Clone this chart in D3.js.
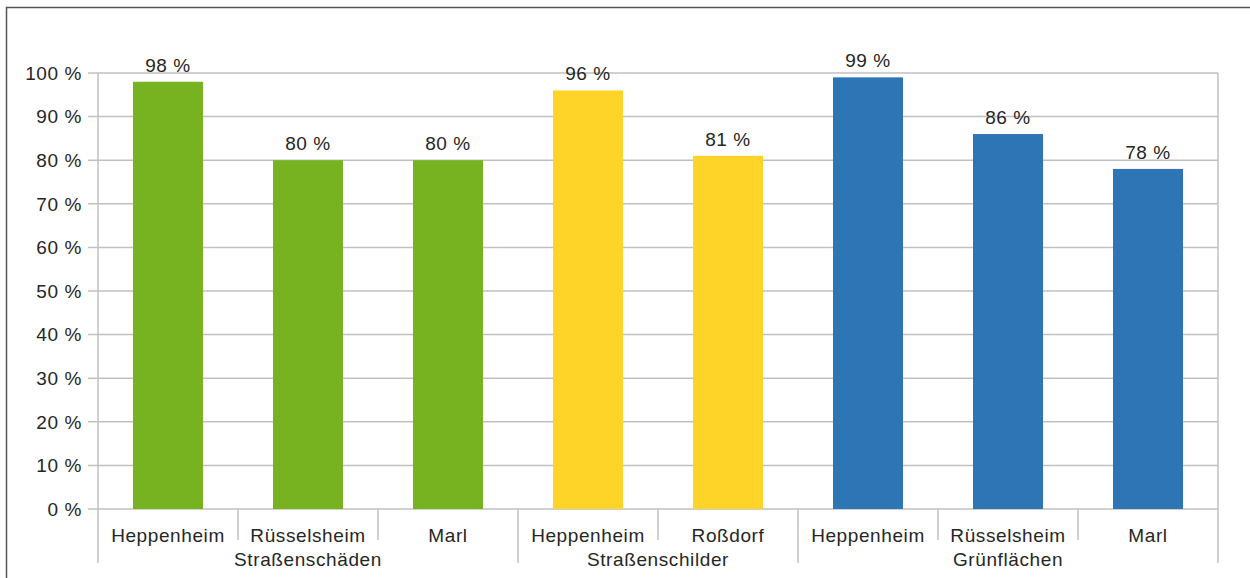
<!DOCTYPE html>
<html>
<head>
<meta charset="utf-8">
<script src="https://cdn.jsdelivr.net/npm/d3@7"></script>
<style>
  body { margin: 0; background: #fff; }
  svg text { font-family: "Liberation Sans", Arial, sans-serif; fill: #262626; font-size: 19px; letter-spacing: 0.6px; }
</style>
</head>
<body>
<div id="chart"></div>
<script>
// chart data
const cities = ["Heppenheim", "Rüsselsheim", "Marl", "Heppenheim", "Roßdorf", "Heppenheim", "Rüsselsheim", "Marl"];
const groups = ["Straßenschäden", "Straßenschäden", "Straßenschäden", "Straßenschilder", "Straßenschilder", "Grünflächen", "Grünflächen", "Grünflächen"];
const values = [98, 80, 80, 96, 81, 99, 86, 78];
const groupColors = { "Straßenschäden": "#77b321", "Straßenschilder": "#ffd428", "Grünflächen": "#2e75b6" };
const yTicks = [0, 10, 20, 30, 40, 50, 60, 70, 80, 90, 100];

const W = 1250, H = 578;
const plotLeft = 98, plotRight = 1218, plotTop = 73, plotBottom = 509;

const svg = d3.select("#chart").append("svg")
    .attr("width", W)
    .attr("height", H);

// outer frame
svg.append("path")
    .attr("d", "M6.5," + H + "V7.5H" + W)
    .attr("fill", "none")
    .attr("stroke", "#555")
    .attr("stroke-width", 1.5);

const x = d3.scaleBand()
    .domain(d3.range(cities.length))
    .range([plotLeft, plotRight])
    .paddingInner(0.5)
    .paddingOuter(0.25);

const y = d3.scaleLinear().domain([0, 100]).range([plotBottom, plotTop]);

const grid = "#c0c0c0";

// horizontal grid + y ticks
svg.append("g").selectAll("line")
    .data(yTicks)
    .enter().append("line")
    .attr("x1", plotLeft - 10)
    .attr("x2", plotRight)
    .attr("y1", d => y(d))
    .attr("y2", d => y(d))
    .attr("stroke", grid)
    .attr("stroke-width", 1.5);

svg.append("g").selectAll("text")
    .data(yTicks)
    .enter().append("text")
    .attr("x", plotLeft - 16)
    .attr("y", d => y(d))
    .attr("dy", "0.36em")
    .attr("text-anchor", "end")
    .text(d => d + " %");

// vertical axis lines
svg.append("line")
    .attr("x1", plotLeft).attr("x2", plotLeft)
    .attr("y1", plotTop).attr("y2", plotBottom)
    .attr("stroke", grid).attr("stroke-width", 1.5);
svg.append("line")
    .attr("x1", plotRight).attr("x2", plotRight)
    .attr("y1", plotTop).attr("y2", plotBottom)
    .attr("stroke", grid).attr("stroke-width", 1.5);

// bars
svg.append("g").selectAll("rect")
    .data(values)
    .enter().append("rect")
    .attr("x", (d, i) => x(i))
    .attr("width", x.bandwidth())
    .attr("y", d => y(d))
    .attr("height", d => plotBottom - y(d))
    .attr("fill", (d, i) => groupColors[groups[i]]);

// value labels
svg.append("g").selectAll("text")
    .data(values)
    .enter().append("text")
    .attr("x", (d, i) => x(i) + x.bandwidth() / 2)
    .attr("y", d => y(d) - 10)
    .attr("text-anchor", "middle")
    .text(d => d + " %");

// category dividers on x axis
const step = x.step();
const boundaries = d3.range(cities.length + 1);
svg.append("g").selectAll("line")
    .data(boundaries)
    .enter().append("line")
    .attr("x1", i => plotLeft + i * step)
    .attr("x2", i => plotLeft + i * step)
    .attr("y1", plotBottom)
    .attr("y2", i => (i === 0 || i === cities.length || groups[i] !== groups[i - 1]) ? 563 : 540)
    .attr("stroke", grid)
    .attr("stroke-width", 1.5);

// city labels
svg.append("g").selectAll("text")
    .data(cities)
    .enter().append("text")
    .attr("x", (d, i) => x(i) + x.bandwidth() / 2)
    .attr("y", 542)
    .attr("text-anchor", "middle")
    .text(d => d);

// group labels
const groupNames = Array.from(new Set(groups));
svg.append("g").selectAll("text")
    .data(groupNames)
    .enter().append("text")
    .attr("x", g => {
        const idx = groups.map((v, i) => v === g ? i : -1).filter(i => i >= 0);
        return plotLeft + (idx[0] + idx[idx.length - 1] + 1) / 2 * step;
    })
    .attr("y", 566)
    .attr("text-anchor", "middle")
    .text(d => d);
</script>
</body>
</html>
